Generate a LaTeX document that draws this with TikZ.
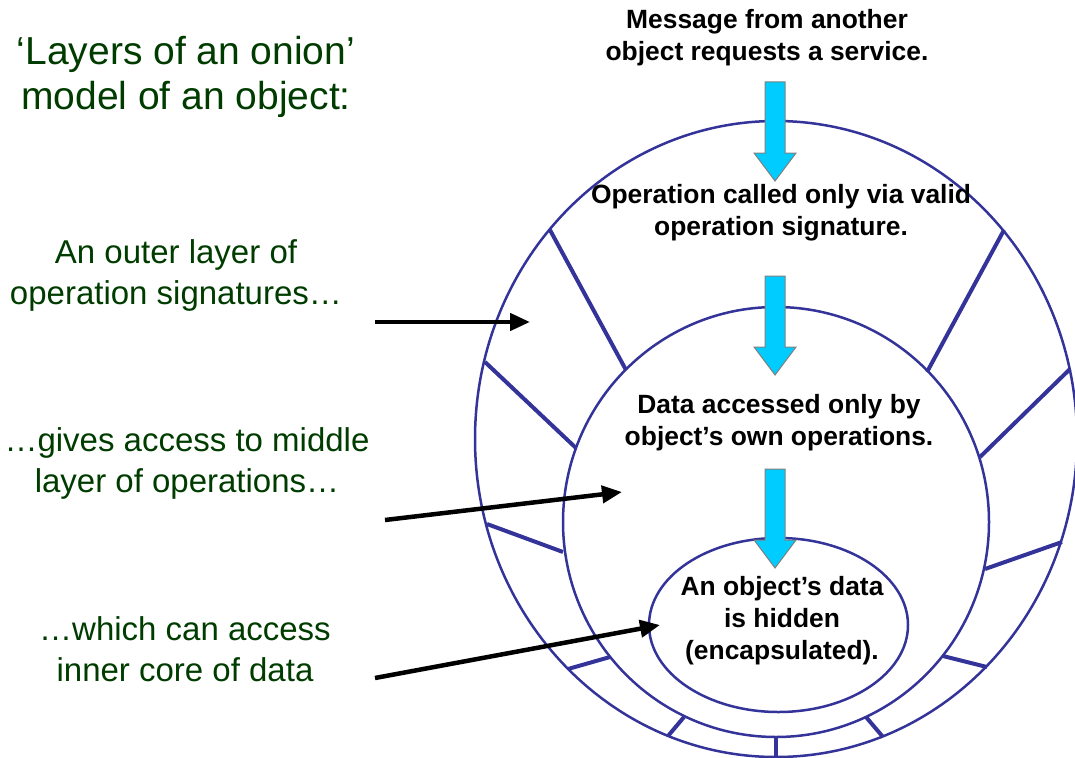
\documentclass[tikz,border=0pt]{standalone}
\usepackage{fontspec}
\setmainfont{Liberation Sans}
\usetikzlibrary{arrows.meta}
\definecolor{onionblue}{RGB}{51,51,153}
\definecolor{notegreen}{RGB}{0,60,0}
\definecolor{msgcyan}{RGB}{0,204,255}

\begin{document}
\begin{tikzpicture}[x=1pt,y=-1pt,
  layer/.style={draw=onionblue,line width=2.5pt},
  spoke/.style={draw=onionblue,line width=4pt},
  pointer/.style={-{Triangle[length=20pt,width=17pt]},line width=4.5pt},
  note/.style={text=notegreen,align=center,font=\fontsize{33}{41}\selectfont},
  callout/.style={align=center,font=\fontsize{26.4}{32}\selectfont\bfseries}]
\useasboundingbox (0,0) rectangle (1075,757);
\clip (0,0) rectangle (1075,757);
\newcommand{\msgarrow}[1]{\draw[fill=msgcyan,draw=gray,line width=1pt] (765,#1) -- (785,#1) -- (785,#1+71) -- (796,#1+71) -- (775,#1+99) -- (754,#1+71) -- (765,#1+71) -- cycle;}
\draw[layer] (776,439) ellipse [x radius=301,y radius=318];
\draw[layer] (776,522) ellipse [x radius=213,y radius=215];
\draw[layer] (778.5,625) ellipse [x radius=129.5,y radius=87];
\foreach \xa/\ya/\xb/\yb in {550/230/626/370,485/362/576/448,487/524/563/552,568/669/610/657,668/736/684/717,776/757/776/737,883/737/866/717,987/667/943/656,1062/542/985/569,1070/369/980/457,1004/230/927/372}
  {\draw[spoke] (\xa,\ya) -- (\xb,\yb);}
\msgarrow{82}
\msgarrow{276}
\msgarrow{469}
\node[callout] (msg) at (767,38) {Message from another\\object requests a service.};
\node[callout] (sig) at (781,213) {Operation called only via valid\\operation signature.};
\node[callout] (ops) at (779,423) {Data accessed only by\\object’s own operations.};
\node[callout] (core) at (782,621) {An object’s data\\is hidden\\(encapsulated).};
\node[note,font=\fontsize{39}{45}\selectfont] (title) at (186,77) {‘Layers of an onion’\\model of an object:};
\node[note] (outerlbl) at (176,275) {An outer layer of\\operation signatures…};
\node[note] (middlelbl) at (187,463) {…gives access to middle\\layer of operations…};
\node[note] (innerlbl) at (185,649) {…which can access\\inner core of data};
\coordinate (outerfrom) at (375,322);
\coordinate (outerto) at (530,322);
\coordinate (middlefrom) at (385,520);
\coordinate (middleto) at (622,492);
\coordinate (innerfrom) at (375,678);
\coordinate (innerto) at (660,625);
\draw[pointer] (outerfrom) -- (outerto);
\draw[pointer] (middlefrom) -- (middleto);
\draw[pointer] (innerfrom) -- (innerto);
\end{tikzpicture}
\end{document}
